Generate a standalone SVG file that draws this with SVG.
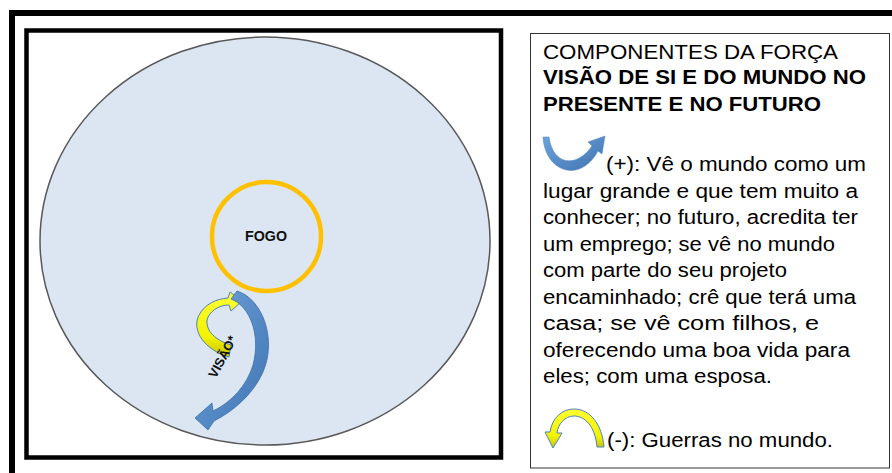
<svg xmlns="http://www.w3.org/2000/svg" width="892" height="473" viewBox="0 0 892 473">
<style>
.lg{font-family:"Liberation Sans",Arial,sans-serif;font-size:20px;fill:#000}
.b{font-weight:bold}
.lbl{font-family:"Liberation Sans",Arial,sans-serif;font-weight:bold;fill:#111}
</style>
<defs>
<linearGradient id="blueG" x1="0" y1="0" x2="1" y2="1">
<stop offset="0" stop-color="#6FA3DA"/>
<stop offset="1" stop-color="#3F74B3"/>
</linearGradient>
<linearGradient id="yelG" x1="0" y1="0" x2="0" y2="1">
<stop offset="0" stop-color="#FFFF33"/>
<stop offset="0.7" stop-color="#F2F200"/>
<stop offset="1" stop-color="#C8C400"/>
</linearGradient>
</defs>
<rect width="892" height="473" fill="#fff"/>
<g id="frame">
<path d="M12 473 V13 H892" fill="none" stroke="#000" stroke-width="6"/>
<rect x="26.5" y="30.5" width="474.5" height="427" fill="#fff" stroke="#000" stroke-width="4.5"/>
</g>
<g id="world">
<ellipse cx="265" cy="241" rx="225" ry="204" fill="#DCE6F2" stroke="#595959" stroke-width="1.5"/>
</g>
<g id="fogo">
<circle cx="266.5" cy="236.5" r="54.5" fill="none" stroke="#FFC000" stroke-width="4.5"/>
<text class="lbl" x="266" y="241" font-size="14.5" text-anchor="middle" textLength="42" lengthAdjust="spacingAndGlyphs">FOGO</text>
</g>
<g id="connectors">
<path id="arrow-yellow" d="M229 357 C205 350 191 331 199 315 C205 304 216 299 228 298 L230 292 L242 301 L231 311 L229 305 C218 305 209 312 207 320 C206 331 215 340 231 345 Z" fill="url(#yelG)" stroke="#4F81BD" stroke-width="1"/>
<path id="arrow-blue" d="M237 291 C263 299 277 340 263 372 C253 395 232 412 214 421 L208 430 L195 418 L212 403 L213 411 C232 402 247 385 253 365 C261 335 250 306 231 299 Z" fill="url(#blueG)" stroke="#3D6FA8" stroke-width="0.8"/>
</g>
<g id="visao">
<text class="lbl" x="223" y="361" font-size="13" text-anchor="middle" transform="rotate(-62 223 357)">VISÃO*</text>
</g>
<g id="legend">
<rect x="530.5" y="33.5" width="359" height="434.5" fill="#fff" stroke="#333" stroke-width="1"/>
<text class="lg" x="543" y="59" textLength="295" lengthAdjust="spacingAndGlyphs">COMPONENTES DA FORÇA</text>
<text class="lg b" x="543" y="84" textLength="323" lengthAdjust="spacingAndGlyphs">VISÃO DE SI E DO MUNDO NO</text>
<text class="lg b" x="543" y="111" textLength="278" lengthAdjust="spacingAndGlyphs">PRESENTE E NO FUTURO</text>
<path id="icon-plus" d="M543 137 C545 172 580 184 598 151 L602 154 L605 136 L588 142 L592 146 C577 168 553 166 549 137 Z" fill="url(#blueG)" stroke="#4F81BD" stroke-width="0.5"/>
<text class="lg" x="606" y="171" textLength="260" lengthAdjust="spacingAndGlyphs">(+): Vê o mundo como um</text>
<text class="lg" x="543" y="198" textLength="315" lengthAdjust="spacingAndGlyphs">lugar grande e que tem muito a</text>
<text class="lg" x="543" y="224" textLength="315" lengthAdjust="spacingAndGlyphs">conhecer; no futuro, acredita ter</text>
<text class="lg" x="543" y="251" textLength="292" lengthAdjust="spacingAndGlyphs">um emprego; se vê no mundo</text>
<text class="lg" x="543" y="277" textLength="244" lengthAdjust="spacingAndGlyphs">com parte do seu projeto</text>
<text class="lg" x="543" y="304" textLength="313" lengthAdjust="spacingAndGlyphs">encaminhado; crê que terá uma</text>
<text class="lg" x="543" y="330" textLength="276" lengthAdjust="spacingAndGlyphs">casa; se vê com filhos, e</text>
<text class="lg" x="543" y="357" textLength="307" lengthAdjust="spacingAndGlyphs">oferecendo uma boa vida para</text>
<text class="lg" x="543" y="383" textLength="229" lengthAdjust="spacingAndGlyphs">eles; com uma esposa.</text>
<path id="icon-minus" d="M597 447 C595 425 584 416 574 416 C565 416 558 424 557 433 L562 433 L553 448 L545 432 L550 432 C552 418 562 409 574 409 C590 409 602 424 604 447 Z" fill="url(#yelG)" stroke="#4F81BD" stroke-width="1"/>
<text class="lg" x="607" y="447" textLength="226" lengthAdjust="spacingAndGlyphs">(-): Guerras no mundo.</text>
</g>
</svg>
